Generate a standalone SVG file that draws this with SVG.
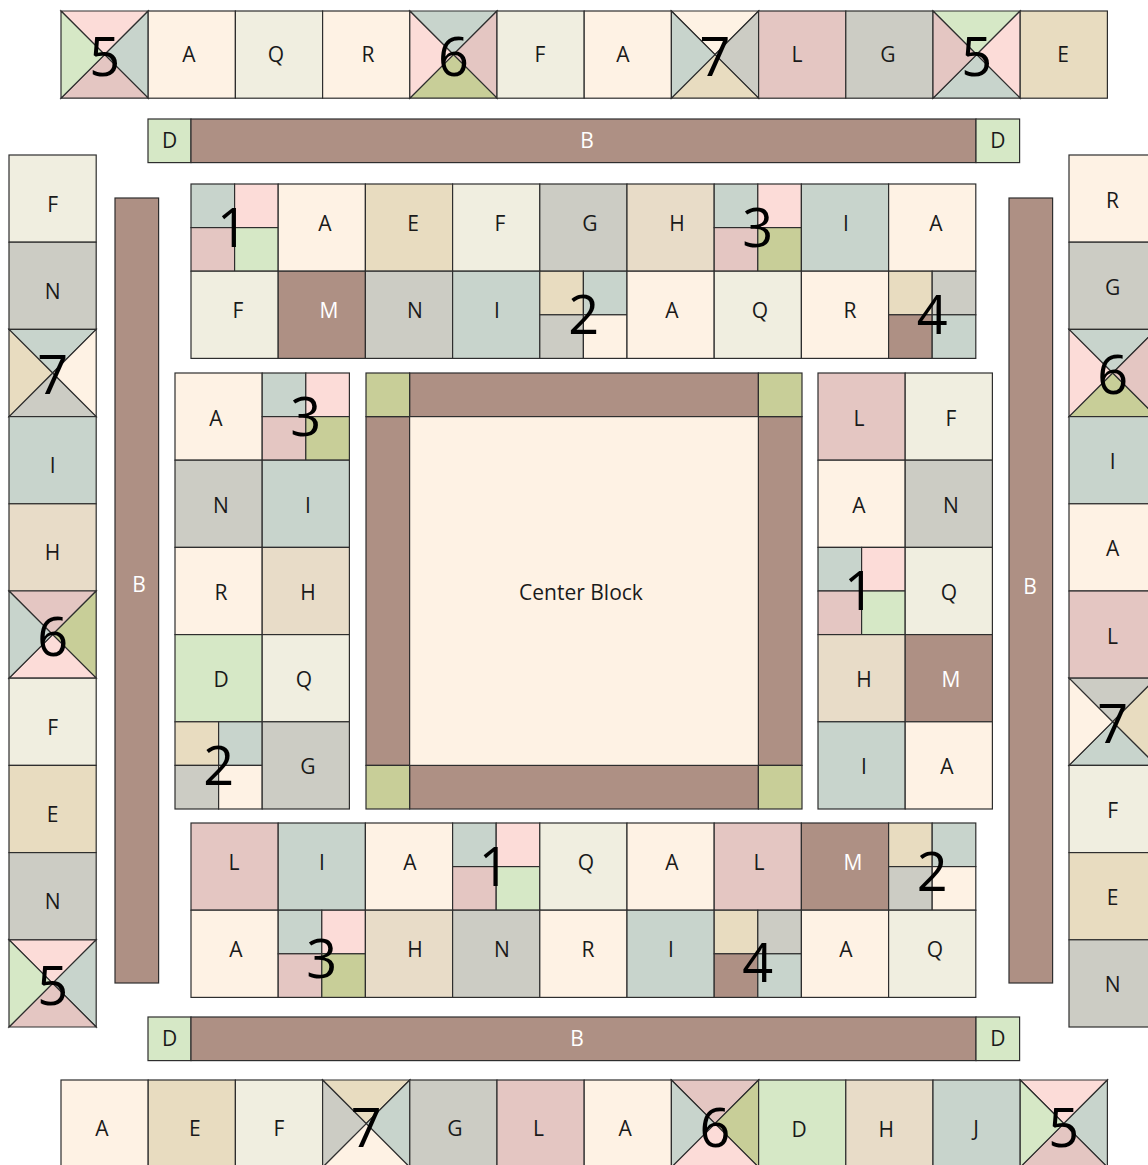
<svg xmlns="http://www.w3.org/2000/svg" width="1148" height="1165" viewBox="0 0 1148 1165">
<style>
rect,polygon{stroke:#2e2e2e;stroke-width:1.2}
.A{fill:#FEF2E4}.Q{fill:#F0EEE0}.E{fill:#E8DCC0}.H{fill:#E8DCC8}.G{fill:#CCCCC4}.I{fill:#C8D4CC}.L{fill:#E4C6C2}.M{fill:#AE9084}.D{fill:#D6E8C6}.P{fill:#FCDCD8}.O{fill:#C8CE98}
text{font-family:"Open Sans","Noto Sans",sans-serif;font-size:21px;text-anchor:middle;fill:#1a1a1a}
text.w{fill:#ffffff}
text.n{font-size:54px;fill:#000}
</style>
<rect width="1148" height="1165" fill="#ffffff" style="stroke:none"/>

<!-- TOP ROW -->
<g id="top-row">
<g id="t1" transform="translate(61,11)"><polygon class="P" points="0,0 87.2,0 43.6,43.6"/><polygon class="I" points="87.2,0 87.2,87.2 43.6,43.6"/><polygon class="L" points="87.2,87.2 0,87.2 43.6,43.6"/><polygon class="D" points="0,87.2 0,0 43.6,43.6"/><text class="n" x="43.6" y="65">5</text></g>
<g id="t2" transform="translate(148.2,11)"><rect class="A" width="87.2" height="87.2"/><text x="40.8" y="51">A</text></g>
<g id="t3" transform="translate(235.4,11)"><rect class="Q" width="87.2" height="87.2"/><text x="40.6" y="51">Q</text></g>
<g id="t4" transform="translate(322.6,11)"><rect class="A" width="87.2" height="87.2"/><text x="45.4" y="51">R</text></g>
<g id="t5" transform="translate(409.8,11)"><polygon class="I" points="0,0 87.2,0 43.6,43.6"/><polygon class="L" points="87.2,0 87.2,87.2 43.6,43.6"/><polygon class="O" points="87.2,87.2 0,87.2 43.6,43.6"/><polygon class="P" points="0,87.2 0,0 43.6,43.6"/><text class="n" x="43.6" y="65">6</text></g>
<g id="t6" transform="translate(497,11)"><rect class="Q" width="87.2" height="87.2"/><text x="43" y="51">F</text></g>
<g id="t7" transform="translate(584.2,11)"><rect class="A" width="87.2" height="87.2"/><text x="38.8" y="51">A</text></g>
<g id="t8" transform="translate(671.4,11)"><polygon class="A" points="0,0 87.2,0 43.6,43.6"/><polygon class="G" points="87.2,0 87.2,87.2 43.6,43.6"/><polygon class="E" points="87.2,87.2 0,87.2 43.6,43.6"/><polygon class="I" points="0,87.2 0,0 43.6,43.6"/><text class="n" x="43.6" y="65">7</text></g>
<g id="t9" transform="translate(758.6,11)"><rect class="L" width="87.2" height="87.2"/><text x="38.4" y="51">L</text></g>
<g id="t10" transform="translate(845.8,11)"><rect class="G" width="87.2" height="87.2"/><text x="42.2" y="51">G</text></g>
<g id="t11" transform="translate(933,11)"><polygon class="D" points="0,0 87.2,0 43.6,43.6"/><polygon class="P" points="87.2,0 87.2,87.2 43.6,43.6"/><polygon class="I" points="87.2,87.2 0,87.2 43.6,43.6"/><polygon class="L" points="0,87.2 0,0 43.6,43.6"/><text class="n" x="43.6" y="65">5</text></g>
<g id="t12" transform="translate(1020.2,11)"><rect class="E" width="87.2" height="87.2"/><text x="42.8" y="51">E</text></g>
</g>

<!-- BARS -->
<g id="bar-top">
<rect class="D" x="148" y="119" width="43" height="43.6"/><text x="169.5" y="148">D</text>
<rect class="M" x="191" y="119" width="785" height="43.6"/><text class="w" x="587" y="148">B</text>
<rect class="D" x="976" y="119" width="43.6" height="43.6"/><text x="997.8" y="148">D</text>
</g>
<g id="bar-bottom">
<rect class="D" x="148" y="1017" width="43" height="43.6"/><text x="169.5" y="1046">D</text>
<rect class="M" x="191" y="1017" width="785" height="43.6"/><text class="w" x="577" y="1046">B</text>
<rect class="D" x="976" y="1017" width="43.6" height="43.6"/><text x="997.8" y="1046">D</text>
</g>
<g id="bar-left"><rect class="M" x="115" y="198" width="43.6" height="785"/><text class="w" x="139" y="592">B</text></g>
<g id="bar-right"><rect class="M" x="1009" y="198" width="43.6" height="785"/><text class="w" x="1030" y="594">B</text></g>

<!-- LEFT COLUMN -->
<g id="left-col">
<g id="l1" transform="translate(9,155)"><rect class="Q" width="87.2" height="87.2"/><text x="43.6" y="56.5">F</text></g>
<g id="l2" transform="translate(9,242.2)"><rect class="G" width="87.2" height="87.2"/><text x="43.6" y="56.5">N</text></g>
<g id="l3" transform="translate(9,329.4)"><polygon class="I" points="0,0 87.2,0 43.6,43.6"/><polygon class="A" points="87.2,0 87.2,87.2 43.6,43.6"/><polygon class="G" points="87.2,87.2 0,87.2 43.6,43.6"/><polygon class="E" points="0,87.2 0,0 43.6,43.6"/><text class="n" x="43.6" y="65">7</text></g>
<g id="l4" transform="translate(9,416.6)"><rect class="I" width="87.2" height="87.2"/><text x="43.6" y="56.5">I</text></g>
<g id="l5" transform="translate(9,503.8)"><rect class="H" width="87.2" height="87.2"/><text x="43.6" y="56.5">H</text></g>
<g id="l6" transform="translate(9,591)"><polygon class="L" points="0,0 87.2,0 43.6,43.6"/><polygon class="O" points="87.2,0 87.2,87.2 43.6,43.6"/><polygon class="P" points="87.2,87.2 0,87.2 43.6,43.6"/><polygon class="I" points="0,87.2 0,0 43.6,43.6"/><text class="n" x="43.6" y="65">6</text></g>
<g id="l7" transform="translate(9,678.2)"><rect class="Q" width="87.2" height="87.2"/><text x="43.6" y="56.5">F</text></g>
<g id="l8" transform="translate(9,765.4)"><rect class="E" width="87.2" height="87.2"/><text x="43.6" y="56.5">E</text></g>
<g id="l9" transform="translate(9,852.6)"><rect class="G" width="87.2" height="87.2"/><text x="43.6" y="56.5">N</text></g>
<g id="l10" transform="translate(9,939.8)"><polygon class="P" points="0,0 87.2,0 43.6,43.6"/><polygon class="I" points="87.2,0 87.2,87.2 43.6,43.6"/><polygon class="L" points="87.2,87.2 0,87.2 43.6,43.6"/><polygon class="D" points="0,87.2 0,0 43.6,43.6"/><text class="n" x="43.6" y="65">5</text></g>
</g>

<!-- RIGHT COLUMN -->
<g id="right-col">
<g id="r1" transform="translate(1069,155)"><rect class="A" width="87.2" height="87.2"/><text x="43.6" y="52.5">R</text></g>
<g id="r2" transform="translate(1069,242.2)"><rect class="G" width="87.2" height="87.2"/><text x="43.6" y="52.5">G</text></g>
<g id="r3" transform="translate(1069,329.4)"><polygon class="I" points="0,0 87.2,0 43.6,43.6"/><polygon class="L" points="87.2,0 87.2,87.2 43.6,43.6"/><polygon class="O" points="87.2,87.2 0,87.2 43.6,43.6"/><polygon class="P" points="0,87.2 0,0 43.6,43.6"/><text class="n" x="43.6" y="65">6</text></g>
<g id="r4" transform="translate(1069,416.6)"><rect class="I" width="87.2" height="87.2"/><text x="43.6" y="52.5">I</text></g>
<g id="r5" transform="translate(1069,503.8)"><rect class="A" width="87.2" height="87.2"/><text x="43.6" y="52.5">A</text></g>
<g id="r6" transform="translate(1069,591)"><rect class="L" width="87.2" height="87.2"/><text x="43.6" y="52.5">L</text></g>
<g id="r7" transform="translate(1069,678.2)"><polygon class="G" points="0,0 87.2,0 43.6,43.6"/><polygon class="E" points="87.2,0 87.2,87.2 43.6,43.6"/><polygon class="I" points="87.2,87.2 0,87.2 43.6,43.6"/><polygon class="A" points="0,87.2 0,0 43.6,43.6"/><text class="n" x="43.6" y="65">7</text></g>
<g id="r8" transform="translate(1069,765.4)"><rect class="Q" width="87.2" height="87.2"/><text x="43.6" y="52.5">F</text></g>
<g id="r9" transform="translate(1069,852.6)"><rect class="E" width="87.2" height="87.2"/><text x="43.6" y="52.5">E</text></g>
<g id="r10" transform="translate(1069,939.8)"><rect class="G" width="87.2" height="87.2"/><text x="43.6" y="52.5">N</text></g>
</g>

<!-- BOTTOM ROW -->
<g id="bottom-row">
<g id="b1" transform="translate(61,1080)"><rect class="A" width="87.2" height="87.2"/><text x="41" y="55.5">A</text></g>
<g id="b2" transform="translate(148.2,1080)"><rect class="E" width="87.2" height="87.2"/><text x="46.6" y="55.5">E</text></g>
<g id="b3" transform="translate(235.4,1080)"><rect class="Q" width="87.2" height="87.2"/><text x="43.6" y="55.5">F</text></g>
<g id="b4" transform="translate(322.6,1080)"><polygon class="E" points="0,0 87.2,0 43.6,43.6"/><polygon class="I" points="87.2,0 87.2,87.2 43.6,43.6"/><polygon class="A" points="87.2,87.2 0,87.2 43.6,43.6"/><polygon class="G" points="0,87.2 0,0 43.6,43.6"/><text class="n" x="43.6" y="67">7</text></g>
<g id="b5" transform="translate(409.8,1080)"><rect class="G" width="87.2" height="87.2"/><text x="45" y="55.5">G</text></g>
<g id="b6" transform="translate(497,1080)"><rect class="L" width="87.2" height="87.2"/><text x="41.5" y="55.5">L</text></g>
<g id="b7" transform="translate(584.2,1080)"><rect class="A" width="87.2" height="87.2"/><text x="41" y="55.5">A</text></g>
<g id="b8" transform="translate(671.4,1080)"><polygon class="L" points="0,0 87.2,0 43.6,43.6"/><polygon class="O" points="87.2,0 87.2,87.2 43.6,43.6"/><polygon class="P" points="87.2,87.2 0,87.2 43.6,43.6"/><polygon class="I" points="0,87.2 0,0 43.6,43.6"/><text class="n" x="43.6" y="67">6</text></g>
<g id="b9" transform="translate(758.6,1080)"><rect class="D" width="87.2" height="87.2"/><text x="40.6" y="57">D</text></g>
<g id="b10" transform="translate(845.8,1080)"><rect class="H" width="87.2" height="87.2"/><text x="40.4" y="57">H</text></g>
<g id="b11" transform="translate(933,1080)"><rect class="I" width="87.2" height="87.2"/><text x="43" y="56">J</text></g>
<g id="b12" transform="translate(1020.2,1080)"><polygon class="P" points="0,0 87.2,0 43.6,43.6"/><polygon class="I" points="87.2,0 87.2,87.2 43.6,43.6"/><polygon class="L" points="87.2,87.2 0,87.2 43.6,43.6"/><polygon class="D" points="0,87.2 0,0 43.6,43.6"/><text class="n" x="43.6" y="67">5</text></g>
</g>

<!-- INNER TOP BLOCK -->
<g id="inner-top">
<g id="it1" transform="translate(191,184)"><rect class="I" width="43.6" height="43.6"/><rect class="P" x="43.6" width="43.6" height="43.6"/><rect class="L" y="43.6" width="43.6" height="43.6"/><rect class="D" x="43.6" y="43.6" width="43.6" height="43.6"/><text class="n" x="41.5" y="63">1</text></g>
<g id="it2" transform="translate(278.2,184)"><rect class="A" width="87.2" height="87.2"/><text x="46.8" y="47">A</text></g>
<g id="it3" transform="translate(365.4,184)"><rect class="E" width="87.2" height="87.2"/><text x="47.6" y="47">E</text></g>
<g id="it4" transform="translate(452.6,184)"><rect class="Q" width="87.2" height="87.2"/><text x="47.4" y="47">F</text></g>
<g id="it5" transform="translate(539.8,184)"><rect class="G" width="87.2" height="87.2"/><text x="50.2" y="47">G</text></g>
<g id="it6" transform="translate(627,184)"><rect class="H" width="87.2" height="87.2"/><text x="50" y="47">H</text></g>
<g id="it7" transform="translate(714.2,184)"><rect class="I" width="43.6" height="43.6"/><rect class="P" x="43.6" width="43.6" height="43.6"/><rect class="L" y="43.6" width="43.6" height="43.6"/><rect class="O" x="43.6" y="43.6" width="43.6" height="43.6"/><text class="n" x="43.6" y="63">3</text></g>
<g id="it8" transform="translate(801.4,184)"><rect class="I" width="87.2" height="87.2"/><text x="44.6" y="47">I</text></g>
<g id="it9" transform="translate(888.6,184)"><rect class="A" width="87.2" height="87.2"/><text x="47.4" y="47">A</text></g>
<g id="it10" transform="translate(191,271.2)"><rect class="Q" width="87.2" height="87.2"/><text x="47" y="47">F</text></g>
<g id="it11" transform="translate(278.2,271.2)"><rect class="M" width="87.2" height="87.2"/><text class="w" x="50.8" y="47">M</text></g>
<g id="it12" transform="translate(365.4,271.2)"><rect class="G" width="87.2" height="87.2"/><text x="49.6" y="47">N</text></g>
<g id="it13" transform="translate(452.6,271.2)"><rect class="I" width="87.2" height="87.2"/><text x="44.4" y="47">I</text></g>
<g id="it14" transform="translate(539.8,271.2)"><rect class="E" width="43.6" height="43.6"/><rect class="I" x="43.6" width="43.6" height="43.6"/><rect class="G" y="43.6" width="43.6" height="43.6"/><rect class="A" x="43.6" y="43.6" width="43.6" height="43.6"/><text class="n" x="44" y="63">2</text></g>
<g id="it15" transform="translate(627,271.2)"><rect class="A" width="87.2" height="87.2"/><text x="45" y="47">A</text></g>
<g id="it16" transform="translate(714.2,271.2)"><rect class="Q" width="87.2" height="87.2"/><text x="45.8" y="47">Q</text></g>
<g id="it17" transform="translate(801.4,271.2)"><rect class="A" width="87.2" height="87.2"/><text x="48.6" y="47">R</text></g>
<g id="it18" transform="translate(888.6,271.2)"><rect class="E" width="43.6" height="43.6"/><rect class="G" x="43.6" width="43.6" height="43.6"/><rect class="M" y="43.6" width="43.6" height="43.6"/><rect class="I" x="43.6" y="43.6" width="43.6" height="43.6"/><text class="n" x="43.6" y="63">4</text></g>
</g>

<!-- INNER LEFT BLOCK -->
<g id="inner-left">
<g id="il1" transform="translate(175,373)"><rect class="A" width="87.2" height="87.2"/><text x="41" y="52.5">A</text></g>
<g id="il2" transform="translate(262.2,373)"><rect class="I" width="43.6" height="43.6"/><rect class="P" x="43.6" width="43.6" height="43.6"/><rect class="L" y="43.6" width="43.6" height="43.6"/><rect class="O" x="43.6" y="43.6" width="43.6" height="43.6"/><text class="n" x="43.6" y="63">3</text></g>
<g id="il3" transform="translate(175,460.2)"><rect class="G" width="87.2" height="87.2"/><text x="46" y="52.5">N</text></g>
<g id="il4" transform="translate(262.2,460.2)"><rect class="I" width="87.2" height="87.2"/><text x="45.8" y="52.5">I</text></g>
<g id="il5" transform="translate(175,547.4)"><rect class="A" width="87.2" height="87.2"/><text x="46" y="52.5">R</text></g>
<g id="il6" transform="translate(262.2,547.4)"><rect class="H" width="87.2" height="87.2"/><text x="45.8" y="52.5">H</text></g>
<g id="il7" transform="translate(175,634.6)"><rect class="D" width="87.2" height="87.2"/><text x="46" y="52.5">D</text></g>
<g id="il8" transform="translate(262.2,634.6)"><rect class="Q" width="87.2" height="87.2"/><text x="41.8" y="52.5">Q</text></g>
<g id="il9" transform="translate(175,721.8)"><rect class="E" width="43.6" height="43.6"/><rect class="I" x="43.6" width="43.6" height="43.6"/><rect class="G" y="43.6" width="43.6" height="43.6"/><rect class="A" x="43.6" y="43.6" width="43.6" height="43.6"/><text class="n" x="43.6" y="63">2</text></g>
<g id="il10" transform="translate(262.2,721.8)"><rect class="G" width="87.2" height="87.2"/><text x="45.8" y="52.5">G</text></g>
</g>

<!-- CENTER BLOCK -->
<g id="center">
<rect class="M" x="409.6" y="373" width="348.8" height="43.6"/>
<rect class="M" x="409.6" y="765.4" width="348.8" height="43.6"/>
<rect class="M" x="366" y="416.6" width="43.6" height="348.8"/>
<rect class="M" x="758.4" y="416.6" width="43.6" height="348.8"/>
<rect class="O" x="366" y="373" width="43.6" height="43.6"/>
<rect class="O" x="758.4" y="373" width="43.6" height="43.6"/>
<rect class="O" x="366" y="765.4" width="43.6" height="43.6"/>
<rect class="O" x="758.4" y="765.4" width="43.6" height="43.6"/>
<rect class="A" x="409.6" y="416.6" width="348.8" height="348.8"/>
<text x="581" y="600">Center Block</text>
</g>

<!-- INNER RIGHT BLOCK -->
<g id="inner-right">
<g id="ir1" transform="translate(818,373)"><rect class="L" width="87.2" height="87.2"/><text x="41" y="52.5">L</text></g>
<g id="ir2" transform="translate(905.2,373)"><rect class="Q" width="87.2" height="87.2"/><text x="45.8" y="52.5">F</text></g>
<g id="ir3" transform="translate(818,460.2)"><rect class="A" width="87.2" height="87.2"/><text x="41" y="52.5">A</text></g>
<g id="ir4" transform="translate(905.2,460.2)"><rect class="G" width="87.2" height="87.2"/><text x="45.8" y="52.5">N</text></g>
<g id="ir5" transform="translate(818,547.4)"><rect class="I" width="43.6" height="43.6"/><rect class="P" x="43.6" width="43.6" height="43.6"/><rect class="L" y="43.6" width="43.6" height="43.6"/><rect class="D" x="43.6" y="43.6" width="43.6" height="43.6"/><text class="n" x="41.5" y="63">1</text></g>
<g id="ir6" transform="translate(905.2,547.4)"><rect class="Q" width="87.2" height="87.2"/><text x="43.8" y="52.5">Q</text></g>
<g id="ir7" transform="translate(818,634.6)"><rect class="H" width="87.2" height="87.2"/><text x="46" y="52.5">H</text></g>
<g id="ir8" transform="translate(905.2,634.6)"><rect class="M" width="87.2" height="87.2"/><text class="w" x="45.8" y="52.5">M</text></g>
<g id="ir9" transform="translate(818,721.8)"><rect class="I" width="87.2" height="87.2"/><text x="46" y="52.5">I</text></g>
<g id="ir10" transform="translate(905.2,721.8)"><rect class="A" width="87.2" height="87.2"/><text x="41.8" y="52.5">A</text></g>
</g>

<!-- INNER BOTTOM BLOCK -->
<g id="inner-bottom">
<g id="ib1" transform="translate(191,823)"><rect class="L" width="87.2" height="87.2"/><text x="43" y="47">L</text></g>
<g id="ib2" transform="translate(278.2,823)"><rect class="I" width="87.2" height="87.2"/><text x="43.8" y="47">I</text></g>
<g id="ib3" transform="translate(365.4,823)"><rect class="A" width="87.2" height="87.2"/><text x="44.6" y="47">A</text></g>
<g id="ib4" transform="translate(452.6,823)"><rect class="I" width="43.6" height="43.6"/><rect class="P" x="43.6" width="43.6" height="43.6"/><rect class="L" y="43.6" width="43.6" height="43.6"/><rect class="D" x="43.6" y="43.6" width="43.6" height="43.6"/><text class="n" x="41.5" y="63">1</text></g>
<g id="ib5" transform="translate(539.8,823)"><rect class="Q" width="87.2" height="87.2"/><text x="46.2" y="47">Q</text></g>
<g id="ib6" transform="translate(627,823)"><rect class="A" width="87.2" height="87.2"/><text x="45" y="47">A</text></g>
<g id="ib7" transform="translate(714.2,823)"><rect class="L" width="87.2" height="87.2"/><text x="44.8" y="47">L</text></g>
<g id="ib8" transform="translate(801.4,823)"><rect class="M" width="87.2" height="87.2"/><text class="w" x="51.6" y="47">M</text></g>
<g id="ib9" transform="translate(888.6,823)"><rect class="E" width="43.6" height="43.6"/><rect class="I" x="43.6" width="43.6" height="43.6"/><rect class="G" y="43.6" width="43.6" height="43.6"/><rect class="A" x="43.6" y="43.6" width="43.6" height="43.6"/><text class="n" x="43.6" y="68">2</text></g>
<g id="ib10" transform="translate(191,910.2)"><rect class="A" width="87.2" height="87.2"/><text x="45" y="47">A</text></g>
<g id="ib11" transform="translate(278.2,910.2)"><rect class="I" width="43.6" height="43.6"/><rect class="P" x="43.6" width="43.6" height="43.6"/><rect class="L" y="43.6" width="43.6" height="43.6"/><rect class="O" x="43.6" y="43.6" width="43.6" height="43.6"/><text class="n" x="43.6" y="68">3</text></g>
<g id="ib12" transform="translate(365.4,910.2)"><rect class="H" width="87.2" height="87.2"/><text x="49.6" y="47">H</text></g>
<g id="ib13" transform="translate(452.6,910.2)"><rect class="G" width="87.2" height="87.2"/><text x="49.4" y="47">N</text></g>
<g id="ib14" transform="translate(539.8,910.2)"><rect class="A" width="87.2" height="87.2"/><text x="48.2" y="47">R</text></g>
<g id="ib15" transform="translate(627,910.2)"><rect class="I" width="87.2" height="87.2"/><text x="44" y="47">I</text></g>
<g id="ib16" transform="translate(714.2,910.2)"><rect class="E" width="43.6" height="43.6"/><rect class="G" x="43.6" width="43.6" height="43.6"/><rect class="M" y="43.6" width="43.6" height="43.6"/><rect class="I" x="43.6" y="43.6" width="43.6" height="43.6"/><text class="n" x="43.6" y="72">4</text></g>
<g id="ib17" transform="translate(801.4,910.2)"><rect class="A" width="87.2" height="87.2"/><text x="44.6" y="47">A</text></g>
<g id="ib18" transform="translate(888.6,910.2)"><rect class="Q" width="87.2" height="87.2"/><text x="46.4" y="47">Q</text></g>
</g>
</svg>
